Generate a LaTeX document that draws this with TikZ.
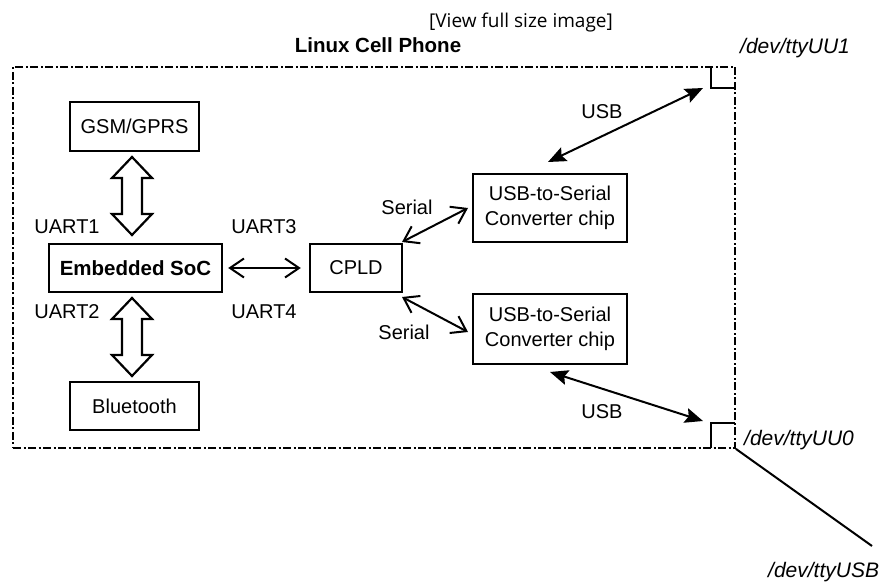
\documentclass[tikz,border=0pt]{standalone}
\usepackage{fontspec}
\setmainfont{Liberation Sans}
\newfontfamily\viewfont{Open Sans}
\usetikzlibrary{arrows.meta}
\begin{document}
\begin{tikzpicture}[x=1pt,y=-1pt,
  box/.style={draw,line width=2.4pt,inner sep=0pt,align=center,font=\fontsize{20}{25}\selectfont},
  lbl/.style={inner sep=0pt,font=\fontsize{20}{24}\selectfont},
  dev/.style={inner sep=0pt,anchor=west,font=\fontsize{21}{24}\selectfont\itshape},
  barb/.style={line width=2pt,{Straight Barb[length=14pt,width=19pt,line width=2pt]}-{Straight Barb[length=14pt,width=19pt,line width=2pt]}},
  usbarrow/.style={line width=2pt,{Stealth[length=18pt,width=15pt,inset=3pt]}-{Stealth[length=18pt,width=15pt,inset=3pt]}},
  blk/.style={draw,line width=2.2pt,fill=white,line join=miter},
  frame/.style={draw,line width=1.8pt,dash pattern=on 8pt off 2.5pt on 2pt off 2.5pt,inner sep=0pt}
]
\useasboundingbox (0,0) rectangle (879,583);

% frame
\node[frame,minimum width=722pt,minimum height=381pt] (phone) at (374,257.5) {};

% boxes
\node[box,minimum width=129pt,minimum height=49pt] (gsm) at (134.5,126.5) {GSM/GPRS};
\node[box,minimum width=173pt,minimum height=48pt,font=\fontsize{20.5}{25}\selectfont\bfseries] (soc) at (135.5,268) {Embedded SoC};
\node[box,minimum width=129pt,minimum height=48pt] (bt) at (134.5,406) {Bluetooth};
\node[box,minimum width=92pt,minimum height=48pt] (cpld) at (356,268) {CPLD};
\node[box,minimum width=154pt,minimum height=68pt] (usb1) at (550,208) {USB-to-Serial\\Converter chip};
\node[box,minimum width=154pt,minimum height=70pt] (usb2) at (550,329) {USB-to-Serial\\Converter chip};

% port squares
\coordinate (sq1a) at (711,67);
\coordinate (sq1b) at (735,88);
\coordinate (sq2a) at (711,448);
\coordinate (sq2b) at (735,423);
\draw[line width=2pt] (sq1a) |- (sq1b);
\draw[line width=2pt] (sq2a) |- (sq2b);

% block arrows
\draw[blk] (132,157) -- (152,178) -- (142,178) -- (142,214) -- (152,214) -- (132,235)
  -- (112,214) -- (122,214) -- (122,178) -- (112,178) -- cycle;
\draw[blk] (132,298) -- (152,319) -- (142,319) -- (142,355) -- (152,355) -- (132,376)
  -- (112,355) -- (122,355) -- (122,319) -- (112,319) -- cycle;

% connectors
\draw[barb,shorten <=5pt,shorten >=8pt] (soc.east) -- (cpld.west);
\coordinate (cne) at (402,242);
\coordinate (cse) at (402,297);
\coordinate (w1) at (468,208);
\coordinate (w2) at (468,332);
\draw[barb] (cne) -- (w1);
\draw[barb] (cse) -- (w2);

\coordinate (u1a) at (548,162);
\coordinate (u1b) at (703,88);
\draw[usbarrow] (u1a) -- (u1b);
\coordinate (u2a) at (550,372);
\coordinate (u2b) at (703,421);
\draw[usbarrow] (u2a) -- (u2b);

\coordinate (usbend) at (872,546);
\draw[line width=2pt] (phone.south east) -- (usbend);

% labels
\node[lbl] (uart1) at (67,227) {UART1};
\node[lbl] (uart3) at (264,227) {UART3};
\node[lbl] (uart2) at (67,312) {UART2};
\node[lbl] (uart4) at (264,312) {UART4};
\node[lbl] (ser1) at (407,207) {Serial};
\node[lbl] (ser2) at (404,332) {Serial};
\node[lbl] (usbl1) at (602,112) {USB};
\node[lbl] (usbl2) at (602,412) {USB};
\node[lbl,font=\fontsize{20.5}{24}\selectfont\bfseries] (title) at (378,45) {Linux Cell Phone};
\node[inner sep=0pt,font=\viewfont\fontsize{19}{23}\selectfont] (view) at (521,23) {[View full size image]};
\node[dev] (tty1) at (740,48) {/dev/ttyUU1};
\node[dev] (tty0) at (744,440) {/dev/ttyUU0};
\node[dev] (ttyusb) at (768,572) {/dev/ttyUSB};
\end{tikzpicture}
\end{document}
